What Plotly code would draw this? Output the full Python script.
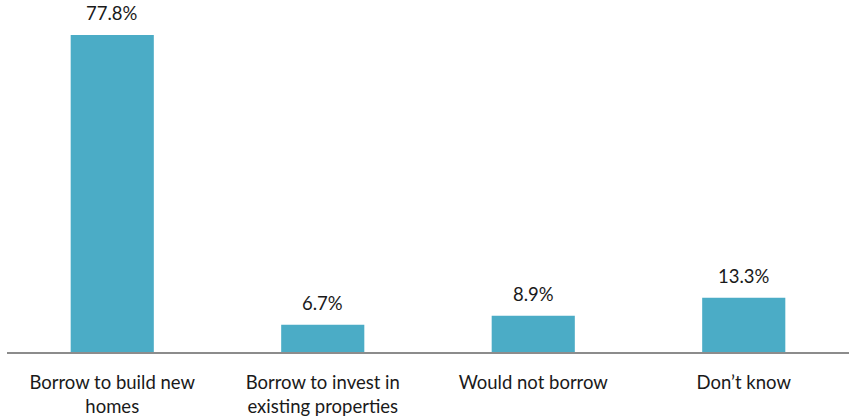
import plotly.graph_objects as go

# Survey responses: share of respondents per option (%)
categories = [
    "Borrow to build new<br>homes",
    "Borrow to invest in<br>existing properties",
    "Would not borrow",
    "Don\u2019t know",
]
shares = [77.8, 6.7, 8.9, 13.3]

bar_color = "#4BACC6"
text_color = "#1a1a1a"
font_family = "Lato, 'Open Sans', sans-serif"

fig = go.Figure(
    go.Bar(
        x=categories,
        y=shares,
        marker=dict(color=bar_color, line=dict(width=0)),
        width=0.395,
        cliponaxis=False,
        hoverinfo="skip",
    )
)

# Value labels sitting above each bar
for cat, val in zip(categories, shares):
    fig.add_annotation(
        x=cat,
        y=val,
        text=f"{val:.1f}%",
        showarrow=False,
        yanchor="bottom",
        yshift=9,
        font=dict(family=font_family, size=18.5, color=text_color),
    )

fig.update_layout(
    width=853,
    height=417,
    margin=dict(l=7, r=4, t=0, b=65),
    paper_bgcolor="white",
    plot_bgcolor="white",
    showlegend=False,
    bargap=0.605,
    xaxis=dict(
        showline=True,
        linecolor="#8c8c8c",
        linewidth=2,
        showgrid=False,
        ticks="",
        tickfont=dict(family=font_family, size=18.5, color=text_color),
        ticklabelstandoff=13,
    ),
    yaxis=dict(
        range=[0, 86.4],
        visible=False,
        showgrid=False,
        zeroline=False,
    ),
)

fig.write_html("out.html")
